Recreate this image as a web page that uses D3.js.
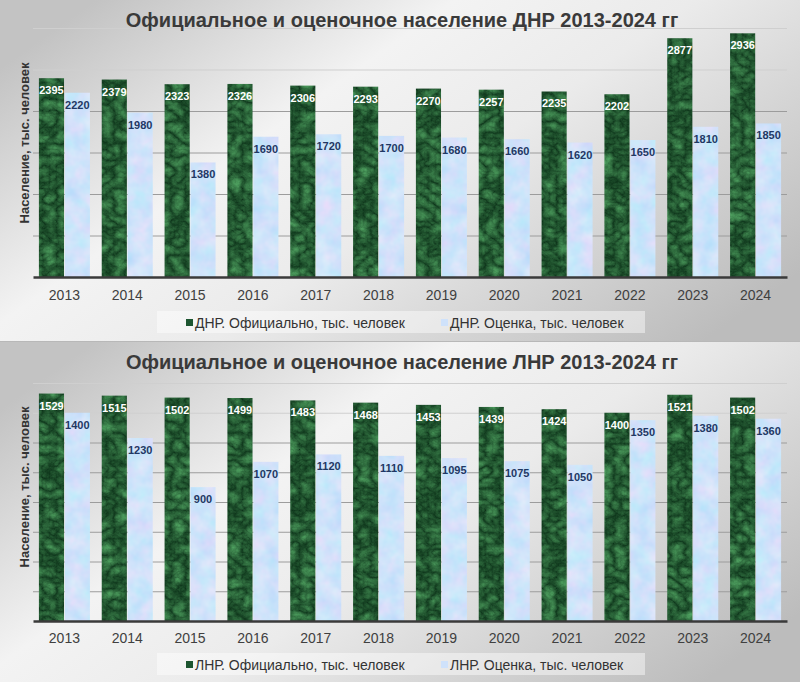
<!DOCTYPE html>
<html>
<head>
<meta charset="utf-8">
<script src="https://cdn.jsdelivr.net/npm/d3@7/dist/d3.min.js"></script>
<style>
  html, body { margin: 0; padding: 0; background: #d8d8d8; }
  svg { display: block; font-family: "Liberation Sans", Arial, sans-serif; }
</style>
</head>
<body>
<svg id="chart" width="800" height="682"></svg>
<script>
// ---- Data ----
const years = ["2013","2014","2015","2016","2017","2018","2019","2020","2021","2022","2023","2024"];

const dnrOfficial = [2395, 2379, 2323, 2326, 2306, 2293, 2270, 2257, 2235, 2202, 2877, 2936];
const dnrEstimate = [2220, 1980, 1380, 1690, 1720, 1700, 1680, 1660, 1620, 1650, 1810, 1850];
const lnrOfficial = [1529, 1515, 1502, 1499, 1483, 1468, 1453, 1439, 1424, 1400, 1521, 1502];
const lnrEstimate = [1400, 1230, 900, 1070, 1120, 1110, 1095, 1075, 1050, 1350, 1380, 1360];

const dnrTicks = [0, 500, 1000, 1500, 2000, 2500, 3000];
const lnrTicks = [0, 200, 400, 600, 800, 1000, 1200, 1400, 1600];

const dnrTitle = "Официальное и оценочное население ДНР 2013-2024 гг";
const lnrTitle = "Официальное и оценочное население ЛНР 2013-2024 гг";
const yTitle = "Население, тыс. человек";
const dnrLegend = ["ДНР. Официально, тыс. человек", "ДНР. Оценка, тыс. человек"];
const lnrLegend = ["ЛНР. Официально, тыс. человек", "ЛНР. Оценка, тыс. человек"];

// ---- Setup ----
const svg = d3.select("#chart");
const defs = svg.append("defs");

// background gradient
const bg = defs.append("linearGradient").attr("id", "bgGrad")
  .attr("x1", 0).attr("y1", 0.2).attr("x2", 1).attr("y2", 0.8);
[[0, "#c3c3c3"], [0.33, "#f3f3f3"], [0.55, "#ebebeb"], [1, "#bcbcbc"]].forEach(([o, c]) =>
  bg.append("stop").attr("offset", o).attr("stop-color", c));

// marble green texture
const fGreen = defs.append("filter").attr("id", "fGreen")
  .attr("filterUnits", "userSpaceOnUse")
  .attr("color-interpolation-filters", "sRGB")
  .attr("x", 0).attr("y", 0).attr("width", 800).attr("height", 682);
fGreen.append("feTurbulence").attr("type", "turbulence")
  .attr("baseFrequency", "0.07 0.09").attr("numOctaves", 4).attr("seed", 3).attr("result", "t");
fGreen.append("feColorMatrix").attr("in", "t").attr("type", "matrix")
  .attr("values", "0.3 0 0 0 0.05  0.5 0 0 0 0.2  0.32 0 0 0 0.1  0 0 0 0 1")
  .attr("result", "c");
fGreen.append("feComposite").attr("in", "c").attr("in2", "SourceGraphic").attr("operator", "in");

// pale blue texture
const fBlue = defs.append("filter").attr("id", "fBlue")
  .attr("filterUnits", "userSpaceOnUse")
  .attr("color-interpolation-filters", "sRGB")
  .attr("x", 0).attr("y", 0).attr("width", 800).attr("height", 682);
fBlue.append("feTurbulence").attr("type", "fractalNoise")
  .attr("baseFrequency", "0.06").attr("numOctaves", 3).attr("seed", 7).attr("result", "t");
fBlue.append("feColorMatrix").attr("in", "t").attr("type", "matrix")
  .attr("values", "0 0.22 0 0 0.7  0.1 0 0 0 0.84  0 0 0 0 0.98  0 0 0 0 1")
  .attr("result", "c");
fBlue.append("feComposite").attr("in", "c").attr("in2", "SourceGraphic").attr("operator", "in");

const x0 = d3.scaleBand().domain(years).range([33, 787]).paddingInner(0.188).paddingOuter(0.094);
const x1 = d3.scaleBand().domain([0, 1]).range([0, x0.bandwidth()]).paddingInner(0.03);

function drawPanel(cfg) {
  const g = svg.append("g");
  g.append("rect").attr("x", 0).attr("y", cfg.panelTop).attr("width", 800)
    .attr("height", cfg.panelH).attr("fill", "url(#bgGrad)");
  if (cfg.panelTop > 0) {
    g.append("line").attr("x1", 0).attr("x2", 800)
      .attr("y1", cfg.panelTop + 0.5).attr("y2", cfg.panelTop + 0.5)
      .attr("stroke", "#b8b8b8").attr("stroke-width", 1);
  }

  const y = d3.scaleLinear().domain([0, d3.max(cfg.ticks)]).range([cfg.base, cfg.top]);

  // gridlines
  const grid = g.append("g").attr("transform", "translate(33,0)")
    .call(d3.axisLeft(y).tickValues(cfg.ticks.slice(1)).tickSize(-754).tickFormat(""));
  grid.select(".domain").remove();
  grid.selectAll(".tick line").attr("stroke", "#9c9c9c").attr("stroke-width", 1);
  grid.selectAll(".tick line").filter((d, i, n) => i >= n.length - 2)
    .attr("stroke", "#cfcfcf");

  // title
  g.append("text").attr("x", 402).attr("y", cfg.titleY).attr("text-anchor", "middle")
    .attr("font-size", 20).attr("font-weight", "bold").attr("fill", "#3a3a3a").text(cfg.title);

  // bars
  const series = [cfg.official, cfg.estimate];
  const fills = ["#1d5530", "#d6e6fb"];
  const filters = ["url(#fGreen)", "url(#fBlue)"];
  series.forEach((vals, si) => {
    g.append("g").selectAll("rect").data(vals).join("rect")
      .attr("x", (d, i) => x0(years[i]) + x1(si))
      .attr("width", x1.bandwidth())
      .attr("y", d => y(d))
      .attr("height", d => cfg.base - y(d))
      .attr("fill", fills[si])
      .attr("filter", filters[si]);
  });
  series.forEach((vals, si) => {
    g.append("g").selectAll("text").data(vals).join("text")
      .attr("x", (d, i) => x0(years[i]) + x1(si) + x1.bandwidth() / 2)
      .attr("y", d => y(d) + 16)
      .attr("text-anchor", "middle")
      .attr("font-size", 11).attr("font-weight", "bold")
      .attr("fill", si === 0 ? "#ffffff" : "#1f3864")
      .text(d => d);
  });

  // x axis
  const xa = g.append("g").attr("transform", `translate(0,${cfg.base})`)
    .call(d3.axisBottom(x0).tickSize(0).tickPadding(0));
  xa.select(".domain").attr("stroke", "#3a3a3a").attr("stroke-width", 2.5);
  xa.selectAll(".tick text").attr("font-size", 14).attr("fill", "#404040")
    .attr("font-family", "'Liberation Sans', Arial, sans-serif")
    .attr("dy", null).attr("y", cfg.xLabelY - cfg.base);

  // y title
  g.append("text")
    .attr("transform", `translate(29,${cfg.yTitleC}) rotate(-90)`)
    .attr("text-anchor", "middle").attr("font-size", 13).attr("font-weight", "bold")
    .attr("fill", "#333").text(yTitle);

  // legend
  const lg = g.append("g");
  lg.append("rect").attr("x", 157).attr("y", cfg.legendY).attr("width", 488).attr("height", 22)
    .attr("fill", "#ffffff").attr("fill-opacity", 0.45);
  const itemX = [186, 441];
  cfg.legend.forEach((t, i) => {
    lg.append("rect").attr("x", itemX[i]).attr("y", cfg.legendY + 8).attr("width", 7).attr("height", 7)
      .attr("fill", i === 0 ? "#1d5530" : "#cfe2fb");
    lg.append("text").attr("x", itemX[i] + 9).attr("y", cfg.legendY + 17)
      .attr("font-size", 14).attr("fill", "#333").text(t);
  });
}

drawPanel({
  panelTop: 0, panelH: 341, top: 28, base: 277, titleY: 27, xLabelY: 300, yTitleC: 143,
  legendY: 311, ticks: dnrTicks, official: dnrOfficial, estimate: dnrEstimate,
  title: dnrTitle, legend: dnrLegend
});
drawPanel({
  panelTop: 341, panelH: 341, top: 383, base: 621, titleY: 369, xLabelY: 643, yTitleC: 487,
  legendY: 653, ticks: lnrTicks, official: lnrOfficial, estimate: lnrEstimate,
  title: lnrTitle, legend: lnrLegend
});
</script>
</body>
</html>
